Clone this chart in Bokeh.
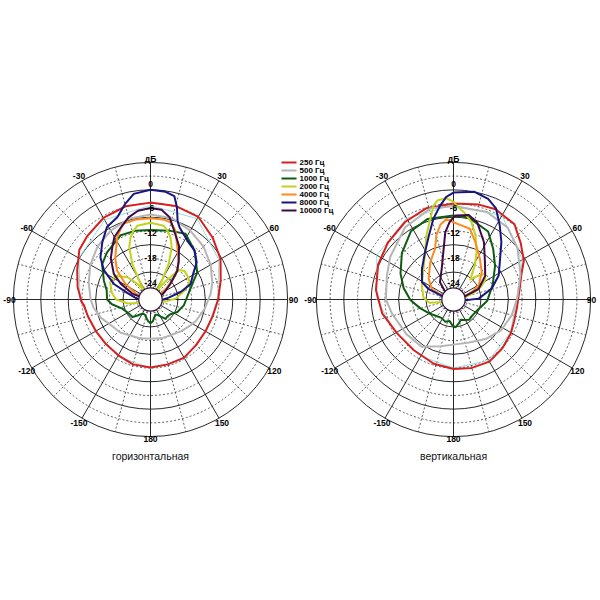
import math
from bokeh.plotting import figure
from bokeh.models import Range1d
from bokeh.embed import file_html
from bokeh.resources import INLINE
from bokeh.core.properties import value

# ---------------- data (dB vs angle, degrees clockwise from front) ----------------
LEGEND = ["250 Гц", "500 Гц", "1000 Гц", "2000 Гц", "4000 Гц", "8000 Гц", "10000 Гц"]
TITLES = ["горизонтальная", "вертикальная"]
ANGLE_TICKS = [30, 60, 90, 120, 150, 180, -150, -120, -90, -60, -30]
DB_TICKS = [0, -6, -12, -18, -24]

# horizontal plane
H_RED_A = [0, 15, 30, 45, 60, 75, 90, 105, 120, 135, 150, 165, 180, 195, 210, 225, 240, 255, 265, 268, 280, 292, 305, 315, 330, 345]
H_RED_DB = [-2.8, -2.8, -3.1, -4.8, -6.3, -8.1, -9.2, -9.9, -10.1, -9.9, -9.3, -9.3, -9.1, -9.3, -9.9, -10.2, -10.2, -9.8, -9.4, -8.9, -7.8, -6.7, -5.0, -4.4, -3.4, -2.9]
H_CYAN_A = [0, 30, 60, 90, 120, 150, 180, 210, 240, 270, 300, 330]
H_CYAN_DB = [-3.4, -3.6, -6.7, -9.3, -10.0, -9.0, -8.9, -9.7, -10.0, -8.6, -5.9, -3.9]
H_GRAY_A = [0, 15, 30, 45, 60, 75, 85, 100, 115, 123, 135, 150, 165, 180, 195, 209, 222, 233, 250, 262, 270, 285, 300, 315, 330, 345]
H_GRAY_DB = [-5.4, -5.6, -6.6, -7.6, -8.8, -10.0, -10.8, -12.0, -13.0, -13.6, -14.3, -15.0, -15.2, -15.4, -15.2, -15.0, -14.2, -13.9, -12.4, -11.4, -10.9, -10.0, -8.8, -7.6, -6.6, -5.7]
H_GREEN_A = [0, 15, 28, 42, 52, 60, 66, 79, 90, 100, 115, 125, 135, 142, 148, 155, 162, 168, 174, 180, 186, 192, 199, 206, 213, 219, 226, 234, 241, 252, 263, 270, 282, 292, 306, 317, 335, 348]
H_GREEN_DB = [-8.8, -8.4, -7.7, -9.6, -11.3, -12.2, -13.6, -15.4, -16.2, -16.6, -17.5, -18.5, -18.8, -18.6, -19.5, -20.3, -20.5, -20.0, -19.2, -18.8, -19.2, -19.8, -20.4, -20.5, -20.2, -19.5, -18.5, -18.4, -18.2, -17.5, -15.5, -14.5, -14.2, -13.0, -10.9, -10.0, -8.5, -8.6]
H_YELLOW_A = [0, 10, 14, 18, 22, 27, 31, 35, 40, 44, 50, 57, 66, 76, 88, 100, 110, 250, 260, 270, 280, 293, 304, 314, 320, 325, 329, 333, 338, 342, 346, 350]
H_YELLOW_DB = [-7.2, -7.6, -8.5, -9.8, -11.6, -15.2, -19.1, -21.4, -18.5, -15.0, -14.3, -14.4, -14.6, -16.5, -18.5, -21.0, -22.0, -22.0, -19.0, -16.5, -15.4, -14.4, -14.7, -17.0, -19.5, -21.4, -19.1, -15.2, -11.6, -9.8, -8.5, -7.6]
H_ORANGE_A = [0, 10, 15, 20, 27, 37, 46, 54, 62, 285, 292, 302, 311, 320, 332, 340, 350]
H_ORANGE_DB = [-6.2, -6.3, -6.6, -8.0, -11.1, -13.7, -16.4, -19.5, -21.8, -21.8, -20.5, -17.5, -14.3, -12.0, -8.5, -6.4, -6.2]
H_BLUE_A = [0, 8, 13, 16, 19, 22, 32, 42, 51, 59, 69, 76, 84, 95, 265, 278, 285, 293, 302, 310, 320, 329, 338, 345, 351]
H_BLUE_DB = [0.0, -0.2, -0.8, -3.0, -5.8, -7.0, -8.8, -9.6, -11.0, -13.1, -14.6, -17.2, -20.0, -21.8, -21.8, -20.5, -19.0, -15.3, -12.0, -9.7, -7.6, -5.5, -4.6, -2.4, -0.6]
H_PURPLE_A = [0, 7, 13, 19, 28, 36, 43, 52, 62, 72, 285, 288, 298, 305, 316, 324, 330, 338, 345, 352]
H_PURPLE_DB = [-4.0, -4.2, -5.5, -8.1, -10.7, -13.5, -15.4, -18.5, -20.5, -21.8, -21.8, -19.8, -16.6, -14.2, -11.5, -9.8, -8.2, -6.9, -5.4, -4.4]

# vertical plane
V_RED_A = [0, 15, 25, 39, 50, 61, 70, 83, 97, 110, 121, 135, 150, 165, 180, 197, 218, 239, 259, 277, 295, 311, 328, 343]
V_RED_DB = [-3.0, -2.5, -2.2, -2.8, -4.8, -6.4, -8.2, -9.5, -10.0, -9.9, -9.4, -8.9, -8.3, -8.5, -8.8, -9.3, -9.9, -9.6, -8.1, -6.9, -5.8, -5.0, -4.0, -3.2]
V_CYAN_A = [0, 30, 60, 90, 120, 150, 180, 210, 240, 270, 300, 330]
V_CYAN_DB = [-3.3, -2.8, -6.6, -10.2, -9.6, -8.6, -9.0, -9.7, -9.4, -7.2, -4.6, -3.5]
V_GRAY_A = [0, 21, 37, 51, 69, 88, 105, 123, 140, 160, 175, 195, 214, 234, 257, 270, 290, 304, 326, 346]
V_GRAY_DB = [-3.6, -3.5, -4.3, -6.0, -8.3, -10.0, -10.8, -11.6, -12.8, -14.0, -14.2, -13.4, -11.5, -11.2, -10.2, -9.2, -8.5, -7.3, -5.0, -3.4]
V_GREEN_A = [0, 10, 27, 38, 51, 69, 92, 115, 130, 142, 152, 160, 168, 176, 183, 190, 200, 213, 226, 240, 255, 269, 283, 296, 312, 328, 342]
V_GREEN_DB = [-5.6, -5.7, -7.3, -9.9, -12.3, -14.8, -16.6, -18.3, -18.6, -18.4, -18.9, -19.3, -18.6, -17.9, -18.4, -19.2, -18.8, -19.2, -18.8, -17.9, -16.5, -14.6, -12.8, -11.1, -8.8, -6.4, -5.5]
V_YELLOW_A = [0, 3, 7, 13, 19, 26, 32, 37, 40, 45, 51, 58, 64, 72, 82, 255, 262, 274, 294, 319, 331, 337, 344, 348, 351, 356]
V_YELLOW_DB = [-2.6, -3.8, -4.8, -6.6, -9.2, -12.5, -15.2, -17.4, -18.3, -16.8, -15.1, -15.8, -17.1, -19.5, -21.8, -21.8, -18.7, -17.4, -16.4, -14.1, -11.3, -8.8, -5.6, -3.0, -2.0, -1.8]
V_ORANGE_A = [0, 6, 13, 21, 33, 46, 61, 68, 76, 285, 296, 310, 328, 340, 345, 350, 355]
V_ORANGE_DB = [-7.1, -7.7, -8.1, -10.6, -13.4, -15.4, -17.7, -19.7, -21.8, -21.8, -18.7, -16.9, -14.4, -12.2, -9.5, -7.4, -6.3]
V_BLUE_A = [0, 11, 19, 25, 32, 40, 49, 62, 74, 88, 96, 285, 293, 299, 314, 329, 339, 346, 352, 356]
V_BLUE_DB = [-0.6, 0.0, -0.7, -2.0, -4.9, -7.7, -10.5, -12.8, -15.3, -18.5, -21.8, -21.8, -18.0, -16.1, -14.4, -11.9, -9.0, -5.8, -3.2, -1.5]
V_PURPLE_A = [0, 2, 10, 17, 28, 40, 53, 67, 76, 310, 322, 339, 349, 353, 357]
V_PURPLE_DB = [-6.0, -5.6, -5.2, -6.3, -9.8, -13.3, -15.3, -18.0, -21.8, -21.8, -19.2, -16.8, -12.7, -9.2, -7.1]

COLORS = ["#d71f1f", "#b5b5b5", "#0e5c12", "#c3d21c", "#ff8a1f", "#17177f", "#3e0b46"]
CYAN = "#8ad8dc"

H_SERIES = [(H_RED_A, H_RED_DB), (H_GRAY_A, H_GRAY_DB), (H_GREEN_A, H_GREEN_DB), (H_YELLOW_A, H_YELLOW_DB),
            (H_ORANGE_A, H_ORANGE_DB), (H_BLUE_A, H_BLUE_DB), (H_PURPLE_A, H_PURPLE_DB)]
V_SERIES = [(V_RED_A, V_RED_DB), (V_GRAY_A, V_GRAY_DB), (V_GREEN_A, V_GREEN_DB), (V_YELLOW_A, V_YELLOW_DB),
            (V_ORANGE_A, V_ORANGE_DB), (V_BLUE_A, V_BLUE_DB), (V_PURPLE_A, V_PURPLE_DB)]

# ---------------- layout ----------------
DB_MIN = -24.0
K = 4.57            # px per dB
DB_MAX = 6.0
HOLE_R = 11.7
FONT = value("Liberation Sans")
CENTERS = [(150.0, 299.0), (453.0, 299.0)]
LABEL_R = [116, 92, 67, 42, 17]

p = figure(width=600, height=600, x_range=Range1d(0, 600), y_range=Range1d(600, 0),
           output_backend="svg", toolbar_location=None, x_axis_type=None, y_axis_type=None,
           min_border=0)
p.outline_line_color = None
p.background_fill_color = "white"


def rad(db):
    return (db - DB_MIN) * K


def pol(cx, cy, ang, r):
    t = math.radians(ang)
    return cx + r * math.sin(t), cy - r * math.cos(t)


R_OUT = rad(DB_MAX)

for ci, (cx, cy) in enumerate(CENTERS):
    # rings
    solid = [rad(d) for d in range(-18, 7, 6)]
    dashed = [rad(d) for d in range(-21, 6, 6)]
    p.circle(x=[cx] * len(dashed), y=[cy] * len(dashed), radius=dashed, fill_color=None,
             line_color="#333333", line_width=0.8, line_dash="2 2")
    p.circle(x=[cx] * len(solid), y=[cy] * len(solid), radius=solid, fill_color=None,
             line_color="#111111", line_width=0.9)
    # spokes
    for a in range(0, 360, 15):
        x0, y0 = pol(cx, cy, a, HOLE_R)
        x1, y1 = pol(cx, cy, a, R_OUT)
        if a % 30 == 0:
            p.segment(x0=[x0], y0=[y0], x1=[x1], y1=[y1], line_color="#111111", line_width=0.9)
        else:
            p.segment(x0=[x0], y0=[y0], x1=[x1], y1=[y1], line_color="#333333", line_width=0.8,
                      line_dash="2 2")

    # curves
    series = H_SERIES if ci == 0 else V_SERIES
    ca, cd = (H_CYAN_A, H_CYAN_DB) if ci == 0 else (V_CYAN_A, V_CYAN_DB)
    pts = [pol(cx, cy, a, rad(d)) for a, d in zip(ca, cd)]
    pts.append(pts[0])
    p.line([q[0] for q in pts], [q[1] for q in pts], line_color=CYAN, line_width=0.9)
    for (angs, dbs), col in zip(series, COLORS):
        pts = [pol(cx, cy, a, rad(d)) for a, d in zip(angs, dbs)]
        pts.append(pts[0])
        p.line([q[0] for q in pts], [q[1] for q in pts], line_color=col, line_width=2.0,
               line_join="round")

    # centre hole
    p.circle(x=[cx], y=[cy], radius=HOLE_R, fill_color="white", line_color="#2c0d33", line_width=1.2)

    # dB labels
    lx = [cx] * len(DB_TICKS)
    ly = [cy - r for r in LABEL_R]
    lt = [str(d) for d in DB_TICKS]
    p.text(x=lx, y=ly, text=lt, text_font=FONT, text_font_size="8.5px", text_font_style="bold",
           text_align="center", text_baseline="middle", text_color="black")

    # angle labels
    ax, ay, at = [], [], []
    for a in ANGLE_TICKS:
        r = 139.5 if a == 180 else 143
        x, y = pol(cx, cy, a, r)
        if ci == 0 and a == -90:
            x = 9
        if ci == 1 and a == 90:
            x = 591
        at.append(str(a))
        ax.append(x)
        ay.append(y)
    x, y = pol(cx, cy, 0, 141)
    ax.append(x)
    ay.append(y)
    at.append("дБ")
    p.text(x=ax, y=ay, text=at, text_font=FONT, text_font_size="8.5px", text_font_style="bold",
           text_align="center", text_baseline="middle", text_color="black")

    # title
    p.text(x=[cx], y=[455], text=[TITLES[ci]], text_font=FONT, text_font_size="10.5px",
           text_align="center", text_baseline="middle", text_color="#111111")

# legend
for i, (name, col) in enumerate(zip(LEGEND, COLORS)):
    yy = 162 + 8 * i
    p.segment(x0=[281], y0=[yy], x1=[296], y1=[yy], line_color=col, line_width=2)
    p.text(x=[299], y=[yy], text=[name], text_font=FONT, text_font_size="8px",
           text_font_style="bold", text_align="left", text_baseline="middle", text_color="black")

open("out.html", "w").write(file_html(p, INLINE))
